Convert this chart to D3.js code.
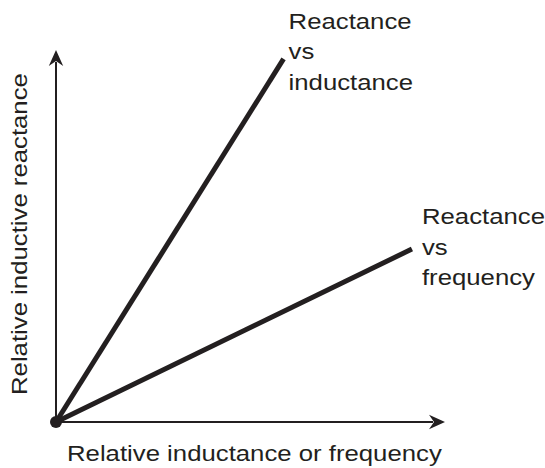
<!DOCTYPE html>
<html>
<head>
<meta charset="utf-8">
<script src="https://cdn.jsdelivr.net/npm/d3@7"></script>
<style>
  html, body { margin: 0; padding: 0; background: #fff; }
  svg { display: block; }
  text { font-family: "Liberation Sans", Arial, sans-serif; fill: #231f20; }
</style>
</head>
<body>
<svg id="chart" width="545" height="468"></svg>
<script>
// Relative reactance curves (both pass through the origin)
const seriesNames = ["Reactance vs inductance", "Reactance vs frequency"];
const reactanceVsInductance = [[0, 0], [0.585, 0.976]];
const reactanceVsFrequency = [[0, 0], [0.915, 0.465]];
const seriesLabels = [["Reactance", "vs", "inductance"], ["Reactance", "vs", "frequency"]];
const xAxisTitle = "Relative inductance or frequency";
const yAxisTitle = "Relative inductive reactance";

const ink = "#231f20";
const stretch = 1.17;   // wide lettering
const svg = d3.select("#chart");

const origin = { x: 56, y: 422 };
const x = d3.scaleLinear().domain([0, 1]).range([origin.x, 445]);
const y = d3.scaleLinear().domain([0, 1]).range([origin.y, 50]);

// Axes with open-backed arrowheads
const g = svg.append("g");
g.append("line")
  .attr("x1", x(0)).attr("y1", y(0)).attr("x2", x(0)).attr("y2", y(1) + 12)
  .attr("stroke", ink).attr("stroke-width", 2);
g.append("line")
  .attr("x1", x(0)).attr("y1", y(0)).attr("x2", x(1) - 12).attr("y2", y(0))
  .attr("stroke", ink).attr("stroke-width", 2);

function arrowHead(tx, ty, angle) {
  g.append("path")
    .attr("d", "M0,0 L-16,-7.2 L-11,0 L-16,7.2 Z")
    .attr("transform", `translate(${tx},${ty}) rotate(${angle})`)
    .attr("fill", ink);
}
arrowHead(x(0), y(1), -90);
arrowHead(x(1), y(0), 0);

// Series lines
const line = d3.line().x(d => x(d[0])).y(d => y(d[1]));
[reactanceVsInductance, reactanceVsFrequency].forEach((data, i) => {
  g.append("path")
    .datum(data)
    .attr("class", "series")
    .attr("aria-label", seriesNames[i])
    .attr("d", line)
    .attr("fill", "none")
    .attr("stroke", ink)
    .attr("stroke-width", 5);
});

// Origin dot
g.append("circle").attr("cx", x(0)).attr("cy", y(0)).attr("r", 6).attr("fill", ink);

// Series labels near the line ends
const labelAnchors = [
  { dx: 5, dy: -30 },
  { dx: 10, dy: -25 }
];
[reactanceVsInductance, reactanceVsFrequency].forEach((data, i) => {
  const end = data[data.length - 1];
  const lx = x(end[0]) + labelAnchors[i].dx;
  const ly = y(end[1]) + labelAnchors[i].dy;
  seriesLabels[i].forEach((t, j) => {
    g.append("text")
      .attr("transform", `translate(${lx},${ly + j * 30.5}) scale(${stretch},1)`)
      .attr("font-size", 22)
      .text(t);
  });
});

// Axis titles
g.append("text")
  .attr("transform", `translate(67,461) scale(${stretch},1)`)
  .attr("font-size", 22)
  .text(xAxisTitle);

g.append("text")
  .attr("transform", `translate(27,395) rotate(-90) scale(${stretch},1)`)
  .attr("font-size", 22)
  .text(yAxisTitle);
</script>
</body>
</html>
